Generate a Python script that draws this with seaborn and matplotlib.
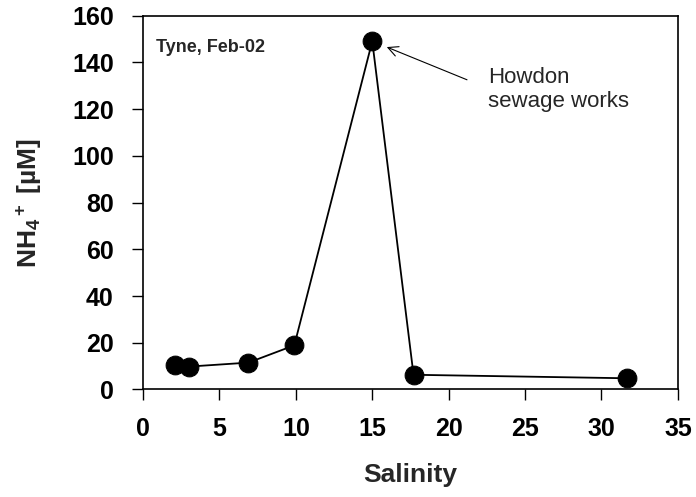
import matplotlib
matplotlib.use("Agg")
import matplotlib.pyplot as plt
import seaborn as sns
import pandas as pd

salinity = [2.1, 3.0, 6.9, 9.9, 15.0, 17.7, 31.7]
nh4 = [10.3, 9.8, 11.5, 18.9, 149.0, 6.3, 4.8]
x_ticks = [0, 5, 10, 15, 20, 25, 30, 35]
y_ticks = [0, 20, 40, 60, 80, 100, 120, 140, 160]

sns.set_style("ticks")
plt.rcParams['font.family'] = ['Liberation Sans', 'DejaVu Sans']
plt.rcParams['mathtext.fontset'] = 'custom'
plt.rcParams['mathtext.rm'] = 'Liberation Sans:bold'
plt.rcParams['mathtext.bf'] = 'Liberation Sans:bold'
plt.rcParams['mathtext.it'] = 'Liberation Sans:bold'

df = pd.DataFrame({"Salinity": salinity, "NH4": nh4})

fig = plt.figure(figsize=(6.96, 4.97), dpi=100)
ax = fig.add_axes([0.2055, 0.2163, 0.974 - 0.2055, 0.9688 - 0.2163])

sns.lineplot(data=df, x="Salinity", y="NH4", sort=False, ax=ax, color="black",
             linewidth=1.3, marker="o", markersize=13.5, markeredgecolor="black",
             markerfacecolor="black")

ax.set_xlim(0, 35)
ax.set_ylim(0, 160)
ax.set_xticks(x_ticks)
ax.set_yticks(y_ticks)
ax.tick_params(axis='both', direction='out', length=8, width=1, labelsize=18, colors='black')
ax.tick_params(axis='y', pad=13)
ax.tick_params(axis='x', pad=12)
for lab in ax.get_xticklabels() + ax.get_yticklabels():
    lab.set_fontweight('bold')
for s in ax.spines.values():
    s.set_visible(True)
    s.set_color('black')
    s.set_linewidth(1.2)

ax.set_xlabel("Salinity", fontsize=19, fontweight='bold', labelpad=16)
ax.set_ylabel(r"NH$_4$$^+$ [µM]", fontsize=19, fontweight='bold', labelpad=20)

ax.text(0.025, 0.915, "Tyne, Feb-02", transform=ax.transAxes, fontsize=13,
        fontweight='bold', va='center', ha='left')

ax.annotate("", xy=(15.95, 146.5), xytext=(21.2, 132.5),
            arrowprops=dict(arrowstyle="->", color="black", lw=0.8,
                            mutation_scale=18, shrinkA=0, shrinkB=0))
ax.text(22.6, 128.5, "Howdon\nsewage works", fontsize=16, ha='left', va='center',
        linespacing=1.2)

fig.savefig("out.png", dpi=100)
